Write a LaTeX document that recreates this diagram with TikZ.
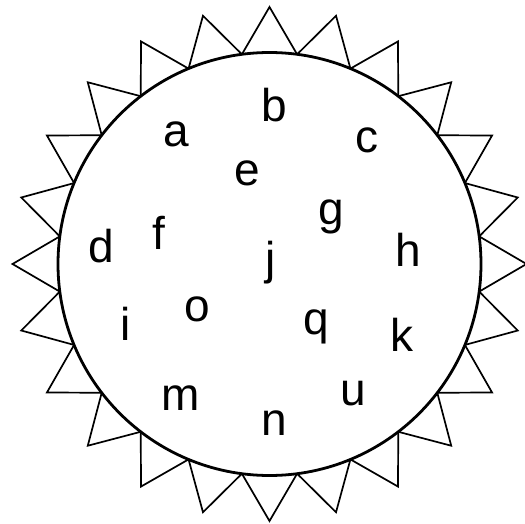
\documentclass[tikz,border=0pt]{standalone}
\usepackage{fontspec}
\setmainfont{Liberation Sans}
\usetikzlibrary{calc}
\begin{document}
\begin{tikzpicture}[x=1pt,y=-1pt,
  lbl/.style={anchor=base,inner sep=0pt,font=\fontsize{46}{46}\selectfont},
  tooth/.style={line width=1.7pt,line join=miter},
  rim/.style={line width=2.8pt}]
\useasboundingbox (0,0) rectangle (525,524);
\coordinate (ctr) at (269.5,264);
\foreach \k in {0,...,23}{
  \pgfmathsetmacro{\t}{90+15*\k}
  \draw[tooth] ($(ctr)+(\t-7.5:211.5)$) -- ($(ctr)+(\t:257)$) -- ($(ctr)+(\t+7.5:211.5)$);
}
\draw[rim] (ctr) circle[radius=211.5];
\node[lbl] (a) at (175.8,146.3) {a};
\node[lbl] (b) at (274.5,121.2) {b};
\node[lbl] (c) at (366.6,152.3) {c};
\node[lbl] (e) at (247.7,185.8) {e};
\node[lbl] (g) at (331.4,225) {g};
\node[lbl] (f) at (159,249.4) {f};
\node[lbl] (d) at (101.4,262.8) {d};
\node[lbl] (h) at (408.4,266.2) {h};
\node[lbl] (j) at (271,274.5) {j};
\node[lbl] (o) at (197.5,321.4) {o};
\node[lbl] (i) at (125.5,340.8) {i};
\node[lbl] (q) at (316.4,334.8) {q};
\node[lbl] (k) at (401.7,351.5) {k};
\node[lbl] (m) at (180.8,410) {m};
\node[lbl] (u) at (353.2,405.8) {u};
\node[lbl] (n) at (274.5,435.9) {n};
\end{tikzpicture}
\end{document}
